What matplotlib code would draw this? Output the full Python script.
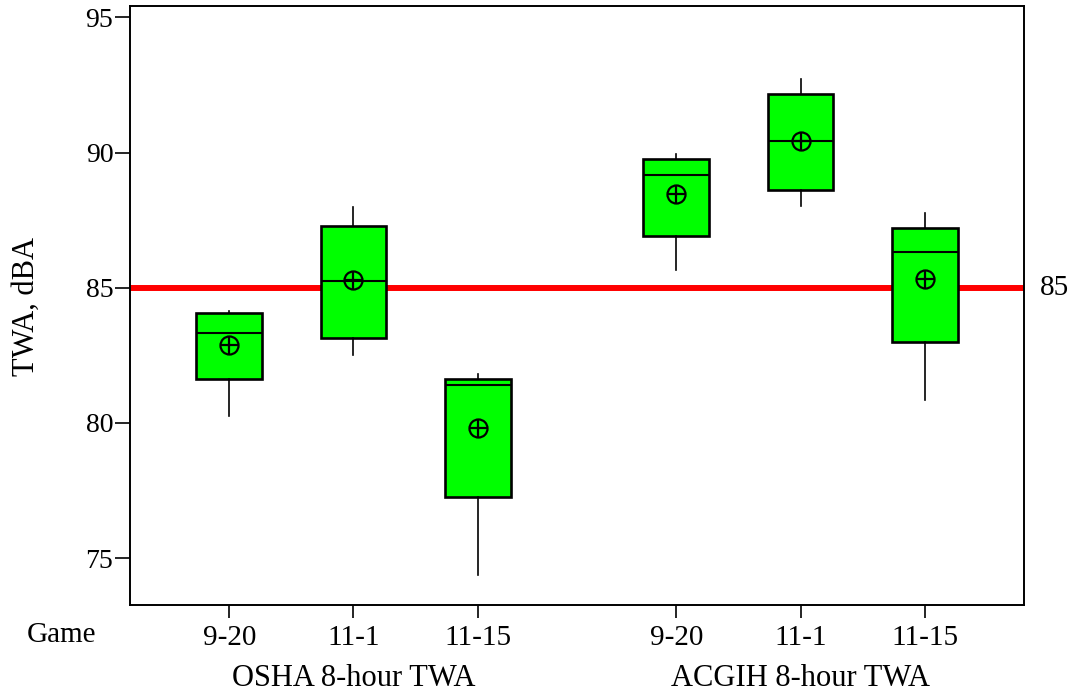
import matplotlib.pyplot as plt
import matplotlib.transforms as mtransforms

plt.rcParams['font.family'] = ['Liberation Serif', 'DejaVu Serif']

# values (dBA)
games = ["9-20", "11-1", "11-15", "9-20", "11-1", "11-15"]
groups = ["OSHA 8-hour TWA", "ACGIH 8-hour TWA"]
positions = [1, 2, 3, 4.6, 5.6, 6.6]
whislo = [80.26, 82.52, 74.38, 85.67, 88.01, 80.85]
q1 = [81.63, 83.15, 77.26, 86.90, 88.63, 83.00]
med = [83.31, 85.26, 81.41, 89.17, 90.44, 86.31]
q3 = [84.05, 87.30, 81.64, 89.77, 92.17, 87.20]
whishi = [84.15, 88.00, 81.80, 89.95, 92.73, 87.75]
means = [82.90, 85.27, 79.83, 88.47, 90.44, 85.32]
limit = 85

stats = []
for i in range(len(games)):
    stats.append(dict(whislo=whislo[i], q1=q1[i], med=med[i], q3=q3[i],
                      whishi=whishi[i], fliers=[]))

fig = plt.figure(figsize=(10.76, 6.94), dpi=100)
ax = fig.add_axes([0.1208, 0.128, 0.9517 - 0.1208, 0.991 - 0.128])

ax.axhline(limit, color='#ff0000', lw=4.3, zorder=1)

ax.bxp(stats, positions=positions, widths=0.53, patch_artist=True,
       showcaps=False, showfliers=False,
       boxprops=dict(facecolor='#00ff00', edgecolor='black', linewidth=1.9),
       medianprops=dict(color='black', linewidth=1.5),
       whiskerprops=dict(color='black', linewidth=1.2),
       zorder=2)

ax.plot(positions, means, ls='none', marker='o', ms=13, mfc='none',
        mec='black', mew=1.6, zorder=4)
ax.plot(positions, means, ls='none', marker='+', ms=13, mec='black',
        mew=1.6, zorder=4)

ax.set_xlim(0.2, 7.4)
ax.set_ylim(73.26, 95.41)
ax.set_yticks([75, 80, 85, 90, 95])
ax.set_xticks(positions)
ax.set_xticklabels(games)
ax.tick_params(axis='both', direction='out', width=1.2, color='black')
ax.tick_params(axis='y', length=11, pad=1, labelsize=20)
ax.tick_params(axis='x', length=9, pad=5, labelsize=21)
for s in ax.spines.values():
    s.set_linewidth(1.4)

fig.text(26 / 1076, 1 - 306 / 694, "TWA, dBA", fontsize=22, rotation=90,
         ha='center', va='center')

trans = mtransforms.blended_transform_factory(ax.transAxes, ax.transData)
ax.text(1.018, limit, str(limit), transform=trans, fontsize=21,
        va='center', ha='left')

xtrans = mtransforms.blended_transform_factory(ax.transData, fig.transFigure)
fig.text(62 / 1076, 1 - 635 / 694, "Game", fontsize=21, ha='center', va='center')
ax.text(2, 1 - 678 / 694, groups[0], transform=xtrans, fontsize=22,
        ha='center', va='center')
ax.text(5.6, 1 - 678 / 694, groups[1], transform=xtrans, fontsize=22,
        ha='center', va='center')

fig.savefig("out.png", dpi=100)
